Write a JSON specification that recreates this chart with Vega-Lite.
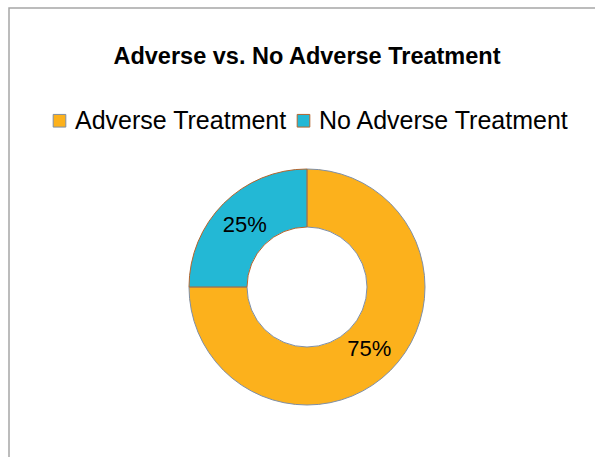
{
  "$schema": "https://vega.github.io/schema/vega-lite/v6.json",
  "width": 596,
  "height": 558,
  "autosize": {"type": "none"},
  "padding": {"left": 9, "top": 8, "right": 0, "bottom": 0},
  "background": "white",
  "view": {"stroke": "#a6a6a6", "strokeWidth": 1.5, "fill": "white"},
  "config": {
    "legend": {
      "orient": "none",
      "legendX": 38,
      "legendY": 100,
      "direction": "horizontal",
      "symbolType": "square",
      "symbolSize": 160,
      "symbolStrokeWidth": 1,
      "symbolOpacity": 1,
      "labelFontSize": 25,
      "labelFont": "Liberation Sans",
      "labelColor": "black",
      "labelOffset": 3,
      "columnPadding": 4,
      "labelLimit": 400
    }
  },
  "title": {
    "text": "Adverse vs. No Adverse Treatment",
    "font": "Liberation Sans",
    "fontSize": 23.5,
    "fontWeight": "bold",
    "color": "black",
    "anchor": "middle",
    "offset": -60
  },
  "data": {
    "values": [
      {"category": "Adverse Treatment", "value": 75, "label": "75%"},
      {"category": "No Adverse Treatment", "value": 25, "label": "25%"}
    ]
  },
  "encoding": {
    "theta": {"field": "value", "type": "quantitative", "stack": true},
    "order": {"field": "category", "type": "nominal", "sort": "ascending"}
  },
  "layer": [
    {
      "mark": {"type": "arc", "outerRadius": 118, "innerRadius": 60, "strokeWidth": 1},
      "encoding": {
        "color": {
          "field": "category",
          "type": "nominal",
          "scale": {"domain": ["Adverse Treatment", "No Adverse Treatment"], "range": ["#FCB11C", "#23B8D5"]},
          "legend": {"title": null}
        },
        "stroke": {
          "field": "category",
          "type": "nominal",
          "scale": {"domain": ["Adverse Treatment", "No Adverse Treatment"], "range": ["#7f8fa6", "#b5652d"]},
          "legend": {"title": null}
        }
      }
    },
    {
      "mark": {"type": "text", "radius": 88, "fontSize": 22, "font": "Liberation Sans", "color": "black"},
      "encoding": {
        "detail": {"field": "category", "type": "nominal"},
        "text": {"field": "label", "type": "nominal"}
      }
    }
  ]
}
